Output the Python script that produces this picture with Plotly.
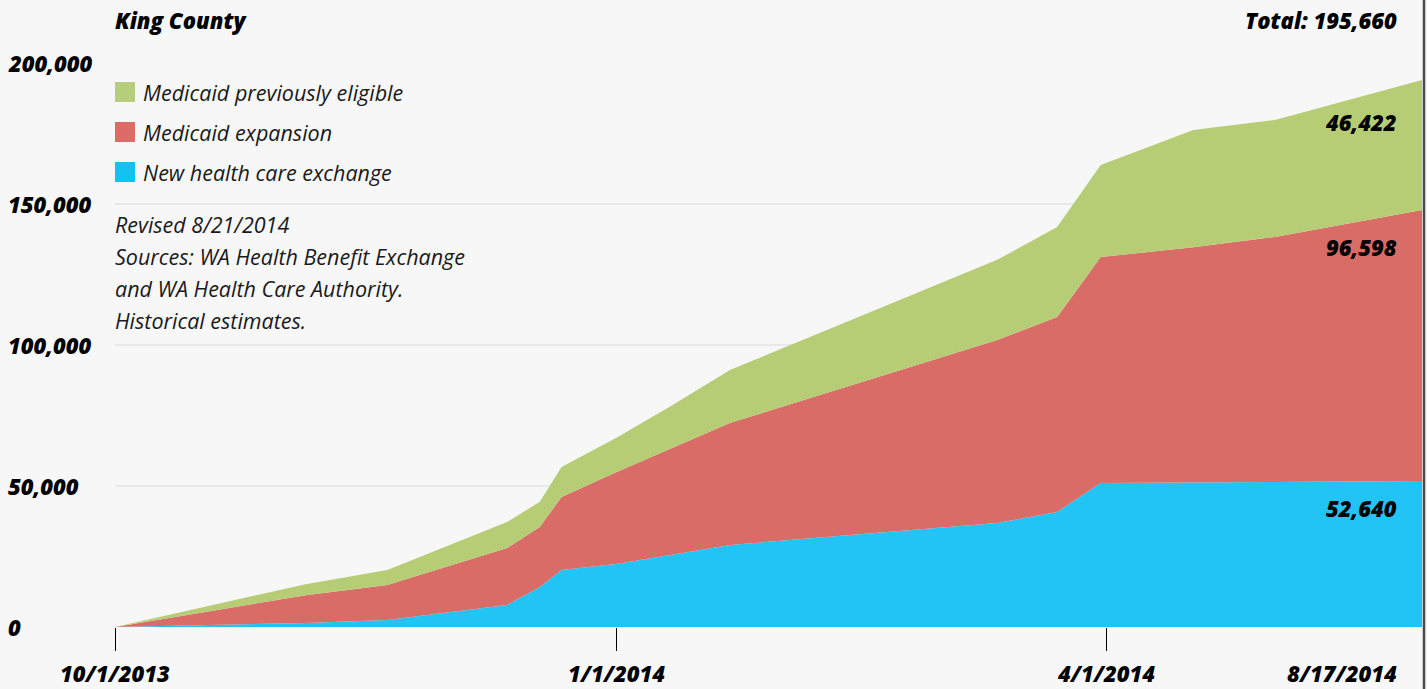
import plotly.graph_objects as go

# ---- data ----
dates = ["2013-10-01", "2013-11-05", "2013-11-20", "2013-12-12", "2013-12-18",
         "2013-12-22", "2014-01-01", "2014-01-11", "2014-01-22", "2014-03-12",
         "2014-03-23", "2014-03-31", "2014-04-17", "2014-05-02", "2014-05-29"]
new_exchange = [0, 1400, 2500, 7800, 14200, 20200, 22300, 25500, 29100, 36900,
                40800, 51100, 51200, 51400, 51800]
medicaid_expansion = [0, 9900, 12400, 20200, 21300, 25900, 32600, 37600, 43300, 64900,
                      69100, 80100, 83500, 86900, 96100]
medicaid_prev = [0, 3900, 5300, 9200, 8900, 10600, 12100, 15200, 18800, 28400,
                 31900, 32600, 41500, 41500, 46100]

series_names = ["New health care exchange", "Medicaid expansion", "Medicaid previously eligible"]
series_values = [new_exchange, medicaid_expansion, medicaid_prev]
series_colors = ["#22c3f5", "#d96c67", "#b6cd76"]
legend_colors = ["#14c2f1", "#dd6b68", "#b5ce7c"]

xtick_dates = ["2013-10-01", "2014-01-01", "2014-04-01"]
xtick_labels = ["10/1/2013", "1/1/2014", "4/1/2014"]
end_label = "8/17/2014"
ytick_values = [0, 50000, 100000, 150000, 200000]
ytick_labels = ["0", "50,000", "100,000", "150,000", "200,000"]

title_text = "King County"
total_text = "Total: 195,660"
final_labels = ["52,640", "96,598", "46,422"]
notes = ["Revised 8/21/2014",
         "Sources: WA Health Benefit Exchange",
         "and WA Health Care Authority.",
         "Historical estimates."]

# ---- layout geometry ----
W, H = 1427, 689
ML, MR, MT, MB = 115, 5, 63, 62
PW, PH = W - ML - MR, H - MT - MB


def px(x):
    return (x - ML) / PW


def py(y):
    return (H - MB - y) / PH


def bold(size):
    return dict(family="Open Sans", size=size, weight=800, style="italic", color="#000000")


ITAL = dict(family="Open Sans", size=21.5, style="italic", color="#1a1a1a")

fig = go.Figure()
for name, vals, col in zip(series_names, series_values, series_colors):
    fig.add_trace(go.Scatter(
        x=dates, y=vals, name=name, mode="lines",
        stackgroup="one", line=dict(width=0, color=col),
        fillcolor=col, showlegend=False, hoverinfo="x+y+name",
    ))

annotations = []
# title / total
annotations.append(dict(text=title_text, x=px(113), y=py(20), xref="paper", yref="paper",
                        xanchor="left", yanchor="middle", showarrow=False, font=bold(22)))
annotations.append(dict(text=total_text, x=px(1399), y=py(20), xref="paper", yref="paper",
                        xanchor="right", yanchor="middle", showarrow=False, font=bold(22)))
# y tick labels (left aligned)
for v, t in zip(ytick_values, ytick_labels):
    annotations.append(dict(text=t, x=px(6), y=v, xref="paper", yref="y",
                            xanchor="left", yanchor="middle", showarrow=False, font=bold(22)))
# x tick labels
XLAB_Y = 673
for d, t in zip(xtick_dates, xtick_labels):
    annotations.append(dict(text=t, x=d, y=py(XLAB_Y), xref="x", yref="paper",
                            xanchor="center", yanchor="middle", showarrow=False, font=bold(22)))
annotations.append(dict(text=end_label, x=px(1399), y=py(XLAB_Y), xref="paper", yref="paper",
                        xanchor="right", yanchor="middle", showarrow=False, font=bold(22)))
# final value labels
for t, yy in zip(final_labels, [508, 247, 122]):
    annotations.append(dict(text=t, x=px(1399), y=py(yy), xref="paper", yref="paper",
                            xanchor="right", yanchor="middle", showarrow=False, font=bold(22)))
# legend
shapes = []
legend_order = [2, 1, 0]
for i, idx in enumerate(legend_order):
    top = 82 + 40 * i
    shapes.append(dict(type="rect", xref="paper", yref="paper",
                       x0=px(115), x1=px(135), y0=py(top + 20), y1=py(top),
                       fillcolor=legend_colors[idx], line=dict(width=0)))
    annotations.append(dict(text=series_names[idx], x=px(141), y=py(top + 10),
                            xref="paper", yref="paper", xanchor="left", yanchor="middle",
                            showarrow=False, font=ITAL))
# notes
for i, t in enumerate(notes):
    annotations.append(dict(text=t, x=px(113), y=py(224 + 32 * i), xref="paper", yref="paper",
                            xanchor="left", yanchor="middle", showarrow=False, font=ITAL))
# right border
shapes.append(dict(type="line", xref="paper", yref="paper", x0=px(1424), x1=px(1424),
                   y0=py(H + 5), y1=py(-5), line=dict(color="#4a4a4a", width=2.5)))

fig.update_layout(
    width=W, height=H, autosize=False,
    margin=dict(l=ML, r=MR, t=MT, b=MB, pad=0),
    paper_bgcolor="#f7f7f7", plot_bgcolor="#f7f7f7",
    xaxis=dict(type="date", range=[dates[0], dates[-1]], tickvals=xtick_dates,
               ticktext=[""] * len(xtick_dates), showticklabels=False,
               ticks="outside", ticklen=23, tickwidth=1, tickcolor="#000000",
               showgrid=False, zeroline=False, showline=False, layer="above traces",
               fixedrange=True),
    yaxis=dict(range=[0, 200000], tickvals=ytick_values, showticklabels=False,
               showgrid=True, gridcolor="#e8e8e8", gridwidth=1.5, zeroline=False,
               showline=False, ticks="", layer="above traces", fixedrange=True),
    annotations=annotations, shapes=shapes,
    showlegend=False,
)

fig.write_html("out.html")
